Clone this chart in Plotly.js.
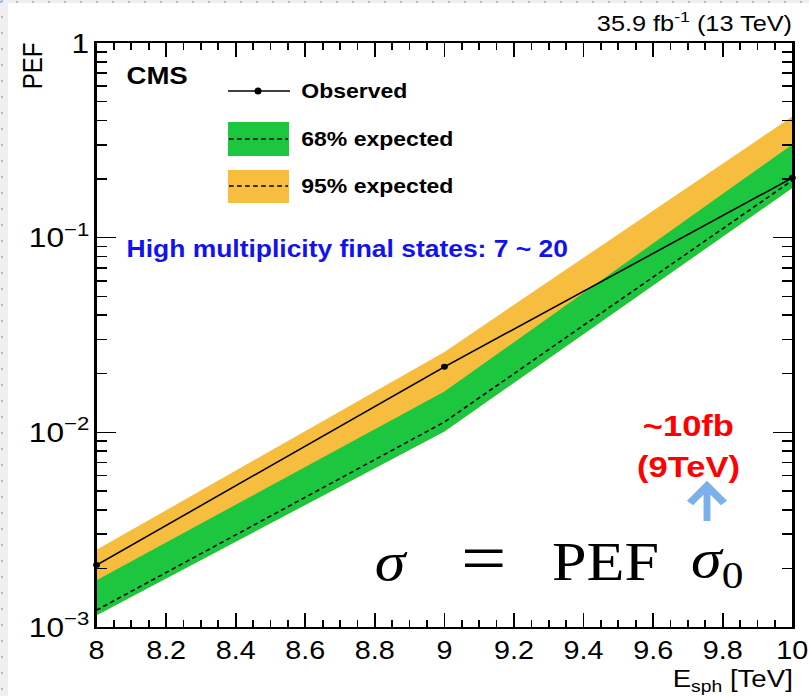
<!DOCTYPE html>
<html>
<head>
<meta charset="utf-8">
<script src="https://cdn.plot.ly/plotly-3.0.1.min.js"></script>
<style>
  html, body { margin:0; padding:0; }
  body { width:809px; height:696px; background:#efefef; position:relative; overflow:hidden; }
  #dotsLeft { position:absolute; left:1px; top:0; width:2px; height:696px;
    background:repeating-linear-gradient(to bottom, #9fbfe0 0 2px, transparent 2px 16px); }
  #dotsTop { position:absolute; left:0; top:1px; width:809px; height:2px;
    background:repeating-linear-gradient(to right, #9fbfe0 0 2px, transparent 2px 16px); }
  #chart { position:absolute; left:8px; top:3px; width:697px; height:693px;
    transform:scaleX(1.15); transform-origin:0 0; background:white; }
</style>
</head>
<body>
<div id="dotsLeft"></div>
<div id="dotsTop"></div>
<div id="chart"></div>
<script>
// ---- data ----
const energy = [8, 9, 10];
const observed = [0.00208, 0.0217, 0.203];
const expected = [0.00122, 0.0113, 0.197];
const band68Low = [0.00115, 0.0101, 0.180];
const band68High = [0.00174, 0.0162, 0.301];
const band95Low = [0.00115, 0.0101, 0.180];
const band95High = [0.00249, 0.0259, 0.419];
const xTickVals = [8, 8.2, 8.4, 8.6, 8.8, 9, 9.2, 9.4, 9.6, 9.8, 10];
const xTickText = ['8', '8.2', '8.4', '8.6', '8.8', '9', '9.2', '9.4', '9.6', '9.8', '10'];
const legendLabels = ['Observed', '68% expected', '95% expected'];
const xTitle = 'E<sub>sph</sub> [TeV]';
const yTitle = 'PEF';
const lumiText = '35.9 fb<sup>-1</sup> (13 TeV)';
const cmsText = 'CMS';
const noteText = 'High multiplicity final states: 7 ~ 20';
const redLines = ['~10fb', '(9TeV)'];

// ---- geometry helpers (page pixel -> paper fraction) ----
const SX = 1.15, L = 77, R = 15, W = 697, PH = 584;
const PW = W - L - R;
const px = x => ((x - 8) / SX - L) / PW;
const py = y => (627 - y) / PH;

const sans = 'Liberation Sans, Arial, Helvetica, sans-serif';
const serif = 'Liberation Serif, Times New Roman, serif';
const green = '#1cc63e', yellow = '#f6bd3f';

function band(lo, hi, color) {
  return {
    x: energy.concat(energy.slice().reverse()),
    y: hi.concat(lo.slice().reverse()),
    type: 'scatter', mode: 'lines', fill: 'toself', fillcolor: color,
    line: {width: 0, color: color}, hoverinfo: 'skip'
  };
}

const traces = [
  band(band95Low, band95High, yellow),
  band(band68Low, band68High, green),
  {x: energy, y: expected, type: 'scatter', mode: 'lines',
   line: {color: 'black', width: 1.5, dash: '4px,3px'}},
  {x: energy, y: observed, type: 'scatter', mode: 'lines+markers', cliponaxis: false,
   line: {color: 'black', width: 1.5}, marker: {color: 'black', size: 6}}
];

const arrowColor = '#7cb0ea';
const shapes = [
  {type: 'line', xref: 'paper', yref: 'paper', x0: px(228), x1: px(290), y0: py(91), y1: py(91),
   line: {color: 'black', width: 1.5}},
  {type: 'circle', xref: 'paper', yref: 'paper', x0: px(254.5), x1: px(261.5), y0: py(94.5), y1: py(87.5),
   fillcolor: 'black', line: {color: 'black', width: 0}},
  {type: 'rect', xref: 'paper', yref: 'paper', x0: px(228), x1: px(289), y0: py(156), y1: py(122),
   fillcolor: green, line: {width: 0}},
  {type: 'line', xref: 'paper', yref: 'paper', x0: px(229), x1: px(288), y0: py(139), y1: py(139),
   line: {color: 'black', width: 1.5, dash: '4px,3px'}},
  {type: 'rect', xref: 'paper', yref: 'paper', x0: px(228), x1: px(289), y0: py(203), y1: py(170),
   fillcolor: yellow, line: {width: 0}},
  {type: 'line', xref: 'paper', yref: 'paper', x0: px(229), x1: px(288), y0: py(186), y1: py(186),
   line: {color: 'black', width: 1.5, dash: '4px,3px'}},
  {type: 'line', xref: 'paper', yref: 'paper', x0: px(707), x1: px(707), y0: py(521), y1: py(488),
   line: {color: arrowColor, width: 6}},
  {type: 'path', xref: 'paper', yref: 'paper',
   path: 'M ' + px(690) + ' ' + py(503) + ' L ' + px(707) + ' ' + py(486) + ' L ' + px(724) + ' ' + py(503),
   line: {color: arrowColor, width: 7}}
];

function ann(x, y, text, font, opts) {
  return Object.assign({xref: 'paper', yref: 'paper', x: x, y: y, xanchor: 'left', yanchor: 'middle',
    showarrow: false, text: text, font: font}, opts || {});
}

const annotations = [
  ann(px(795), py(22), lumiText, {family: sans, size: 22, color: 'black'}, {xanchor: 'right'}),
  ann(px(32), py(40), yTitle, {family: sans, size: 24, color: 'black'}, {xanchor: 'center', yanchor: 'top', textangle: -90}),
  ann(px(795), py(663), xTitle, {family: sans, size: 24, color: 'black'}, {xanchor: 'right', yanchor: 'top'}),
  ann(px(124), py(75), '<b>' + cmsText + '</b>', {family: sans, size: 24, color: 'black'}),
  ann(px(299), py(91), '<b>' + legendLabels[0] + '</b>', {family: sans, size: 20, color: 'black'}),
  ann(px(299), py(139), '<b>' + legendLabels[1] + '</b>', {family: sans, size: 20, color: 'black'}),
  ann(px(299), py(186), '<b>' + legendLabels[2] + '</b>', {family: sans, size: 20, color: 'black'}),
  ann(px(124), py(249), '<b>' + noteText + '</b>', {family: sans, size: 23, color: '#1212ee'}),
  ann(px(688), py(425), '<b>' + redLines[0] + '</b>', {family: sans, size: 30, color: '#ff0000'}, {xanchor: 'center'}),
  ann(px(688), py(466), '<b>' + redLines[1] + '</b>', {family: sans, size: 30, color: '#ff0000'}, {xanchor: 'center'}),
  ann(px(391), py(562), '<i>σ</i>', {family: serif, size: 54, color: 'black'}, {xanchor: 'center'}),
  ann(px(483), py(558), '=', {family: serif, size: 70, color: 'black'}, {xanchor: 'center'}),
  ann(px(605), py(562), 'PEF', {family: serif, size: 54, color: 'black'}, {xanchor: 'center'}),
  ann(px(717), py(562), '<i>σ</i><sub>0</sub>', {family: serif, size: 54, color: 'black'}, {xanchor: 'center'})
];

const layout = {
  width: W, height: 693,
  margin: {l: L, r: R, t: 40, b: 69, pad: 0},
  paper_bgcolor: 'white', plot_bgcolor: 'white',
  showlegend: false,
  xaxis: {
    range: [8, 10], tickmode: 'array', tickvals: xTickVals, ticktext: xTickText,
    ticklabeloverflow: 'allow',
    ticks: 'inside', ticklen: 14, tickwidth: 1.5, tickcolor: 'black',
    showline: true, linecolor: 'black', linewidth: 2, mirror: 'allticks',
    showgrid: false, zeroline: false,
    tickfont: {family: sans, size: 25, color: 'black'},
    minor: {ticks: 'inside', ticklen: 7, tick0: 8, dtick: 0.05, tickwidth: 1.5, tickcolor: 'black', showgrid: false}
  },
  yaxis: {
    type: 'log', range: [-3, 0], dtick: 1, exponentformat: 'power',
    ticks: 'inside', ticklen: 17, tickwidth: 1.5, tickcolor: 'black',
    showline: true, linecolor: 'black', linewidth: 2, mirror: 'allticks',
    showgrid: false, zeroline: false,
    tickfont: {family: sans, size: 22, color: 'black'},
    minor: {ticks: 'inside', ticklen: 9, dtick: 'D1', tickwidth: 1.5, tickcolor: 'black', showgrid: false}
  },
  shapes: shapes,
  annotations: annotations
};

Plotly.newPlot('chart', traces, layout, {displayModeBar: false, staticPlot: true});
</script>
</body>
</html>
